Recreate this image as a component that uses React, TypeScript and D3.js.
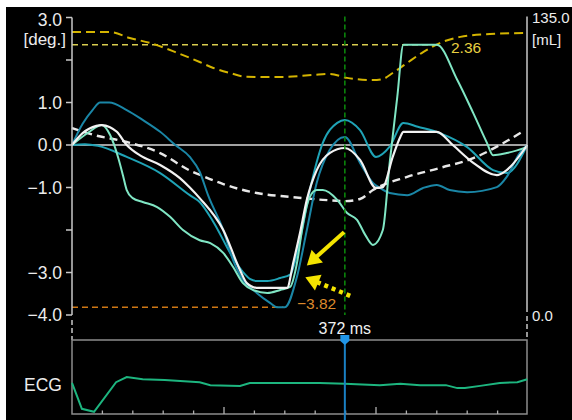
import React from 'react';
import * as d3 from 'd3';

// ---------- data ----------
const timeDomain: [number, number] = [13, 613]; // ms
const angleDomain: [number, number] = [-4, 3]; // deg
const volumeDomain: [number, number] = [0, 135]; // mL

const angleTicks = [3, 2, 1, 0, -1, -2, -3, -4];
const angleTickLabels = ['3.0', '', '1.0', '0.0', '−1.0', '', '−3.0', '−4.0'];
const timeTicks = [53, 93, 133, 173, 213, 253, 293, 333, 373, 413, 453, 493, 533, 573];
const timeMajorTicks = [213, 413];

const markerMs = 372;
const maxValue = 2.36;
const maxValueEndMs = 493;
const minValue = -3.82;
const minValueEndMs = 291;

// teal curve (peak 1.0, min -3.82)
const tealA: [number, number][] = [
  [13, 0], [27, 0.5], [40, 0.82], [50, 1.0], [62, 1.0], [85, 0.82], [106, 0.59], [129, 0.31], [149, 0],
  [168, -0.28], [181, -0.63], [192, -1.18], [212, -2.0], [225, -2.71], [238, -3.18], [256, -3.48],
  [274, -3.72], [283, -3.82], [293, -3.82], [309, -3.1], [322, -2.0], [335, -0.89], [352, -0.12],
  [372, 0.19], [392, -0.42], [409, -0.89], [418, -1.01], [431, -1.13], [454, -1.18], [475, -1.01],
  [493, -0.94], [510, -1.06], [533, -1.11], [572, -0.99], [585, -0.75], [602, -0.19], [612, 0],
];
// second teal curve
const tealB: [number, number][] = [
  [13, 0], [30, 0.02], [47, -0.02], [85, -0.28], [129, -0.66], [168, -1.18], [181, -1.34], [199, -1.81],
  [225, -2.66], [238, -2.99], [247, -3.15], [256, -3.2], [270, -3.2], [287, -3.13], [300, -3.05],
  [313, -2.24], [326, -1.06], [343, 0.05], [362, 0.52], [372, 0.59], [392, 0.35], [413, -0.28],
  [431, -0.04], [449, 0.52], [468, 0.43], [497, 0.28], [533, -0.05], [567, -0.59], [585, -0.66], [612, 0],
];
// aquamarine curve (max 2.36)
const aqua: [number, number][] = [
  [13, 0], [35, 0.3], [52, 0.47], [63, 0.24], [74, -0.31], [80, -0.71], [85, -1.06], [93, -1.25],
  [106, -1.34], [125, -1.46], [142, -1.69], [159, -2.0], [181, -2.24], [195, -2.31], [212, -2.54],
  [225, -2.87], [238, -3.25], [251, -3.41], [270, -3.48], [287, -3.41], [300, -3.34], [309, -2.78],
  [317, -1.84], [326, -1.22], [335, -1.06], [343, -1.06], [362, -1.29], [375, -1.6], [388, -1.76],
  [399, -2.12], [409, -2.35], [422, -2.0], [431, -0.42], [441, 1.13], [449, 2.36], [493, 2.36],
  [520, 1.53], [541, 0.75], [559, 0.05], [567, -0.24], [585, -0.19], [612, -0.05],
];
// white solid curve
const whiteSolid: [number, number][] = [
  [13, 0], [27, 0.28], [45, 0.45], [52, 0.47], [63, 0.42], [72, 0.31], [85, 0], [102, -0.24],
  [129, -0.47], [155, -0.78], [168, -1.0], [181, -1.25], [212, -2.0], [234, -2.94], [243, -3.25],
  [256, -3.36], [296, -3.36], [304, -2.78], [313, -2.07], [322, -1.29], [335, -0.59], [352, -0.19],
  [372, -0.07], [392, -0.35], [413, -1.01], [422, -0.99], [435, -0.28], [445, 0.19], [449, 0.31],
  [493, 0.31], [514, 0], [541, -0.42], [572, -0.71], [585, -0.59], [612, 0],
];
// white dashed mean curve
const whiteMean: [number, number][] = [
  [13, 0.4], [41, 0.24], [85, 0.07], [129, -0.19], [168, -0.6], [181, -0.7], [212, -0.92], [256, -1.13],
  [300, -1.22], [343, -1.29], [372, -1.32], [392, -1.27], [409, -1.06], [454, -0.75], [497, -0.54],
  [541, -0.31], [576, 0], [609, 0.35],
];
// volume curve (mL, right axis)
const volume: [number, number][] = [
  [13, 128.4], [63, 128.4], [89, 125.7], [116, 123.4], [149, 119.3], [181, 114.8], [199, 112.1],
  [221, 109.8], [243, 108.1], [287, 108], [330, 108.9], [352, 109.4], [375, 107.6], [409, 106.6],
  [422, 107.1], [435, 109.8], [454, 114.4], [475, 119.3], [497, 123.4], [524, 126.2], [563, 127.5],
  [612, 128],
];
// ECG trace (normalised amplitude)
const ecg: [number, number][] = [
  [13, 0.42], [26, 0.07], [42, 0.03], [71, 0.43], [85, 0.5], [106, 0.47], [135, 0.46], [181, 0.43],
  [195, 0.39], [234, 0.38], [247, 0.42], [300, 0.42], [339, 0.42], [372, 0.41], [418, 0.39],
  [445, 0.41], [471, 0.39], [505, 0.39], [520, 0.35], [530, 0.35], [550, 0.38], [576, 0.42],
  [599, 0.43], [612, 0.47],
];
// annotation arrows [ms, deg]
const arrowSolid = { from: [371, -2.05], to: [322, -2.835] };
const arrowDotted = { from: [379, -3.55], to: [320, -3.11] };

// ---------- layout ----------
const W = 572;
const H = 420;
const plotLeft = 72;
const plotRight = 528;
const plotTop = 17.5;
const plotBottom = 315;
const ecgTop = 340;
const ecgBottom = 414;
const FONT = 'Liberation Sans, Arial, Helvetica, sans-serif';

export default function App() {
  const x = d3.scaleLinear().domain(timeDomain).range([plotLeft, plotRight]);
  const y = d3.scaleLinear().domain(angleDomain).range([plotBottom, plotTop]);
  const yV = d3.scaleLinear().domain(volumeDomain).range([plotBottom, plotTop]);
  const yE = d3.scaleLinear().domain([0, 1]).range([ecgBottom, ecgTop]);

  const line = d3
    .line<[number, number]>()
    .x((d) => x(d[0]))
    .y((d) => y(d[1]))
    .curve(d3.curveMonotoneX);
  const lineV = d3
    .line<[number, number]>()
    .x((d) => x(d[0]))
    .y((d) => yV(d[1]))
    .curve(d3.curveMonotoneX);
  const lineE = d3
    .line<[number, number]>()
    .x((d) => x(d[0]))
    .y((d) => yE(d[1]));

  const axisRight = x(timeDomain[1]) - 1;
  const mx = x(markerMs);

  const arrow = (a: { from: number[]; to: number[] }, dotted: boolean) => {
    const x1 = x(a.from[0]);
    const y1 = y(a.from[1]);
    const x2 = x(a.to[0]);
    const y2 = y(a.to[1]);
    const dx = x2 - x1;
    const dy = y2 - y1;
    const len = Math.hypot(dx, dy);
    const ux = dx / len;
    const uy = dy / len;
    const hl = 14;
    const hw = 8.5;
    const bx = x2 - ux * hl;
    const by = y2 - uy * hl;
    const p1 = [bx - uy * hw, by + ux * hw];
    const p2 = [bx + uy * hw, by - ux * hw];
    return (
      <g>
        <line
          x1={x1}
          y1={y1}
          x2={bx + ux * 1}
          y2={by + uy * 1}
          stroke="#f4e400"
          strokeWidth={dotted ? 4.5 : 4}
          strokeDasharray={dotted ? '4 4' : undefined}
        />
        <path d={`M${x2},${y2}L${p1[0]},${p1[1]}L${p2[0]},${p2[1]}Z`} fill="#f4e400" />
      </g>
    );
  };

  return (
    <svg
      width={W}
      height={H}
      style={{ position: 'absolute', left: 0, top: 0, display: 'block' }}
      fontFamily={FONT}
    >
      <rect x={0} y={0} width={W} height={H} fill="#ffffff" />
      <rect x={6} y={7} width={W - 6} height={H - 7} fill="#000000" />

      {/* reference lines */}
      <line
        x1={plotLeft}
        x2={x(maxValueEndMs)}
        y1={y(maxValue)}
        y2={y(maxValue)}
        stroke="#d8cc50"
        strokeWidth={1.5}
        strokeDasharray="6 4"
      />
      <line
        x1={plotLeft}
        x2={x(minValueEndMs)}
        y1={y(minValue)}
        y2={y(minValue)}
        stroke="#d07814"
        strokeWidth={1.5}
        strokeDasharray="6 4"
      />
      <line x1={plotLeft} x2={axisRight} y1={y(0)} y2={y(0)} stroke="#d8d8d8" strokeWidth={1.6} />

      {/* volume */}
      <path d={lineV(volume) || ''} fill="none" stroke="#d4b400" strokeWidth={2} strokeDasharray="9 5" />

      {/* curves */}
      <path d={line(whiteMean) || ''} fill="none" stroke="#e8e8e8" strokeWidth={2.4} strokeDasharray="8 5" />
      <path d={line(tealB) || ''} fill="none" stroke="#1fa3b6" strokeWidth={2} />
      <path d={line(tealA) || ''} fill="none" stroke="#1a86a6" strokeWidth={2} />
      <path d={line(aqua) || ''} fill="none" stroke="#80e6c4" strokeWidth={2} />
      <path d={line(whiteSolid) || ''} fill="none" stroke="#f2f2f2" strokeWidth={2.2} />

      {/* marker line */}
      <line x1={mx} x2={mx} y1={plotTop - 1} y2={plotBottom} stroke="#0c8c0c" strokeWidth={1.5} strokeDasharray="5 3" />

      {/* arrows */}
      {arrow(arrowSolid, false)}
      {arrow(arrowDotted, true)}

      {/* value labels */}
      <text x={451} y={y(maxValue) + 8.5} fontSize={15.5} fill="#e8d040">
        {maxValue.toFixed(2)}
      </text>
      <text x={297} y={y(minValue) + 1.5} fontSize={15.5} fill="#dc8a2c">
        {'−' + Math.abs(minValue).toFixed(2)}
      </text>

      {/* left axis */}
      <line x1={plotLeft} x2={plotLeft} y1={plotTop} y2={plotBottom} stroke="#c8c8c8" strokeWidth={1.5} />
      <line
        x1={plotLeft}
        x2={plotLeft}
        y1={plotBottom + 5}
        y2={ecgTop}
        stroke="#c8c8c8"
        strokeWidth={1.5}
        strokeDasharray="5 3"
      />
      {angleTicks.map((t, i) => (
        <g key={t}>
          <line x1={plotLeft - 6} x2={plotLeft} y1={y(t)} y2={y(t)} stroke="#c8c8c8" strokeWidth={1.5} />
          {angleTickLabels[i] && (
            <text
              x={62}
              y={y(t) + 6.3 + (i === 0 ? 2 : 0)}
              textAnchor="end"
              fontSize={17.5}
              fill="#ececec"
            >
              {angleTickLabels[i]}
            </text>
          )}
        </g>
      ))}
      <text x={66} y={45} textAnchor="end" fontSize={17} fill="#ececec">
        [deg.]
      </text>

      {/* right axis */}
      <line x1={axisRight} x2={axisRight} y1={plotTop - 1} y2={plotBottom - 3} stroke="#c8c8c8" strokeWidth={1.5} />
      <line
        x1={axisRight}
        x2={axisRight}
        y1={plotBottom + 1}
        y2={ecgTop}
        stroke="#c8c8c8"
        strokeWidth={1.5}
        strokeDasharray="5 3"
      />
      <text x={532} y={yV(volumeDomain[1]) + 5.5} fontSize={15} fill="#ececec">
        {volumeDomain[1].toFixed(1)}
      </text>
      <text x={532} y={45} fontSize={15} fill="#ececec">
        [mL]
      </text>
      <text x={532} y={yV(volumeDomain[0]) + 5.5} fontSize={15} fill="#ececec">
        {volumeDomain[0].toFixed(1)}
      </text>

      {/* ECG panel */}
      <rect
        x={plotLeft}
        y={ecgTop}
        width={axisRight - plotLeft}
        height={ecgBottom - ecgTop}
        fill="none"
        stroke="#8c8c8c"
        strokeWidth={1.5}
      />
      {timeTicks.map((t) => {
        const major = timeMajorTicks.includes(t);
        return (
          <line
            key={t}
            x1={x(t)}
            x2={x(t)}
            y1={ecgBottom}
            y2={ecgBottom - (major ? 7 : 3.5)}
            stroke="#b0b0b0"
            strokeWidth={1.3}
          />
        );
      })}
      <path d={lineE(ecg) || ''} fill="none" stroke="#1db57f" strokeWidth={2} />
      <text x={62} y={391} textAnchor="end" fontSize={17.5} fill="#ececec">
        ECG
      </text>

      {/* time marker */}
      <line x1={mx} x2={mx} y1={ecgTop} y2={H} stroke="#1a80c4" strokeWidth={2} />
      <path
        d={`M${mx - 4.5},${ecgTop - 5}L${mx + 4.5},${ecgTop - 5}L${mx + 4.5},${ecgTop + 1}L${mx},${ecgTop + 5}L${mx - 4.5},${ecgTop + 1}Z`}
        fill="#2196e8"
      />
      <text x={mx} y={333.5} textAnchor="middle" fontSize={16} fill="#f0f0f0">
        {markerMs} ms
      </text>
    </svg>
  );
}
